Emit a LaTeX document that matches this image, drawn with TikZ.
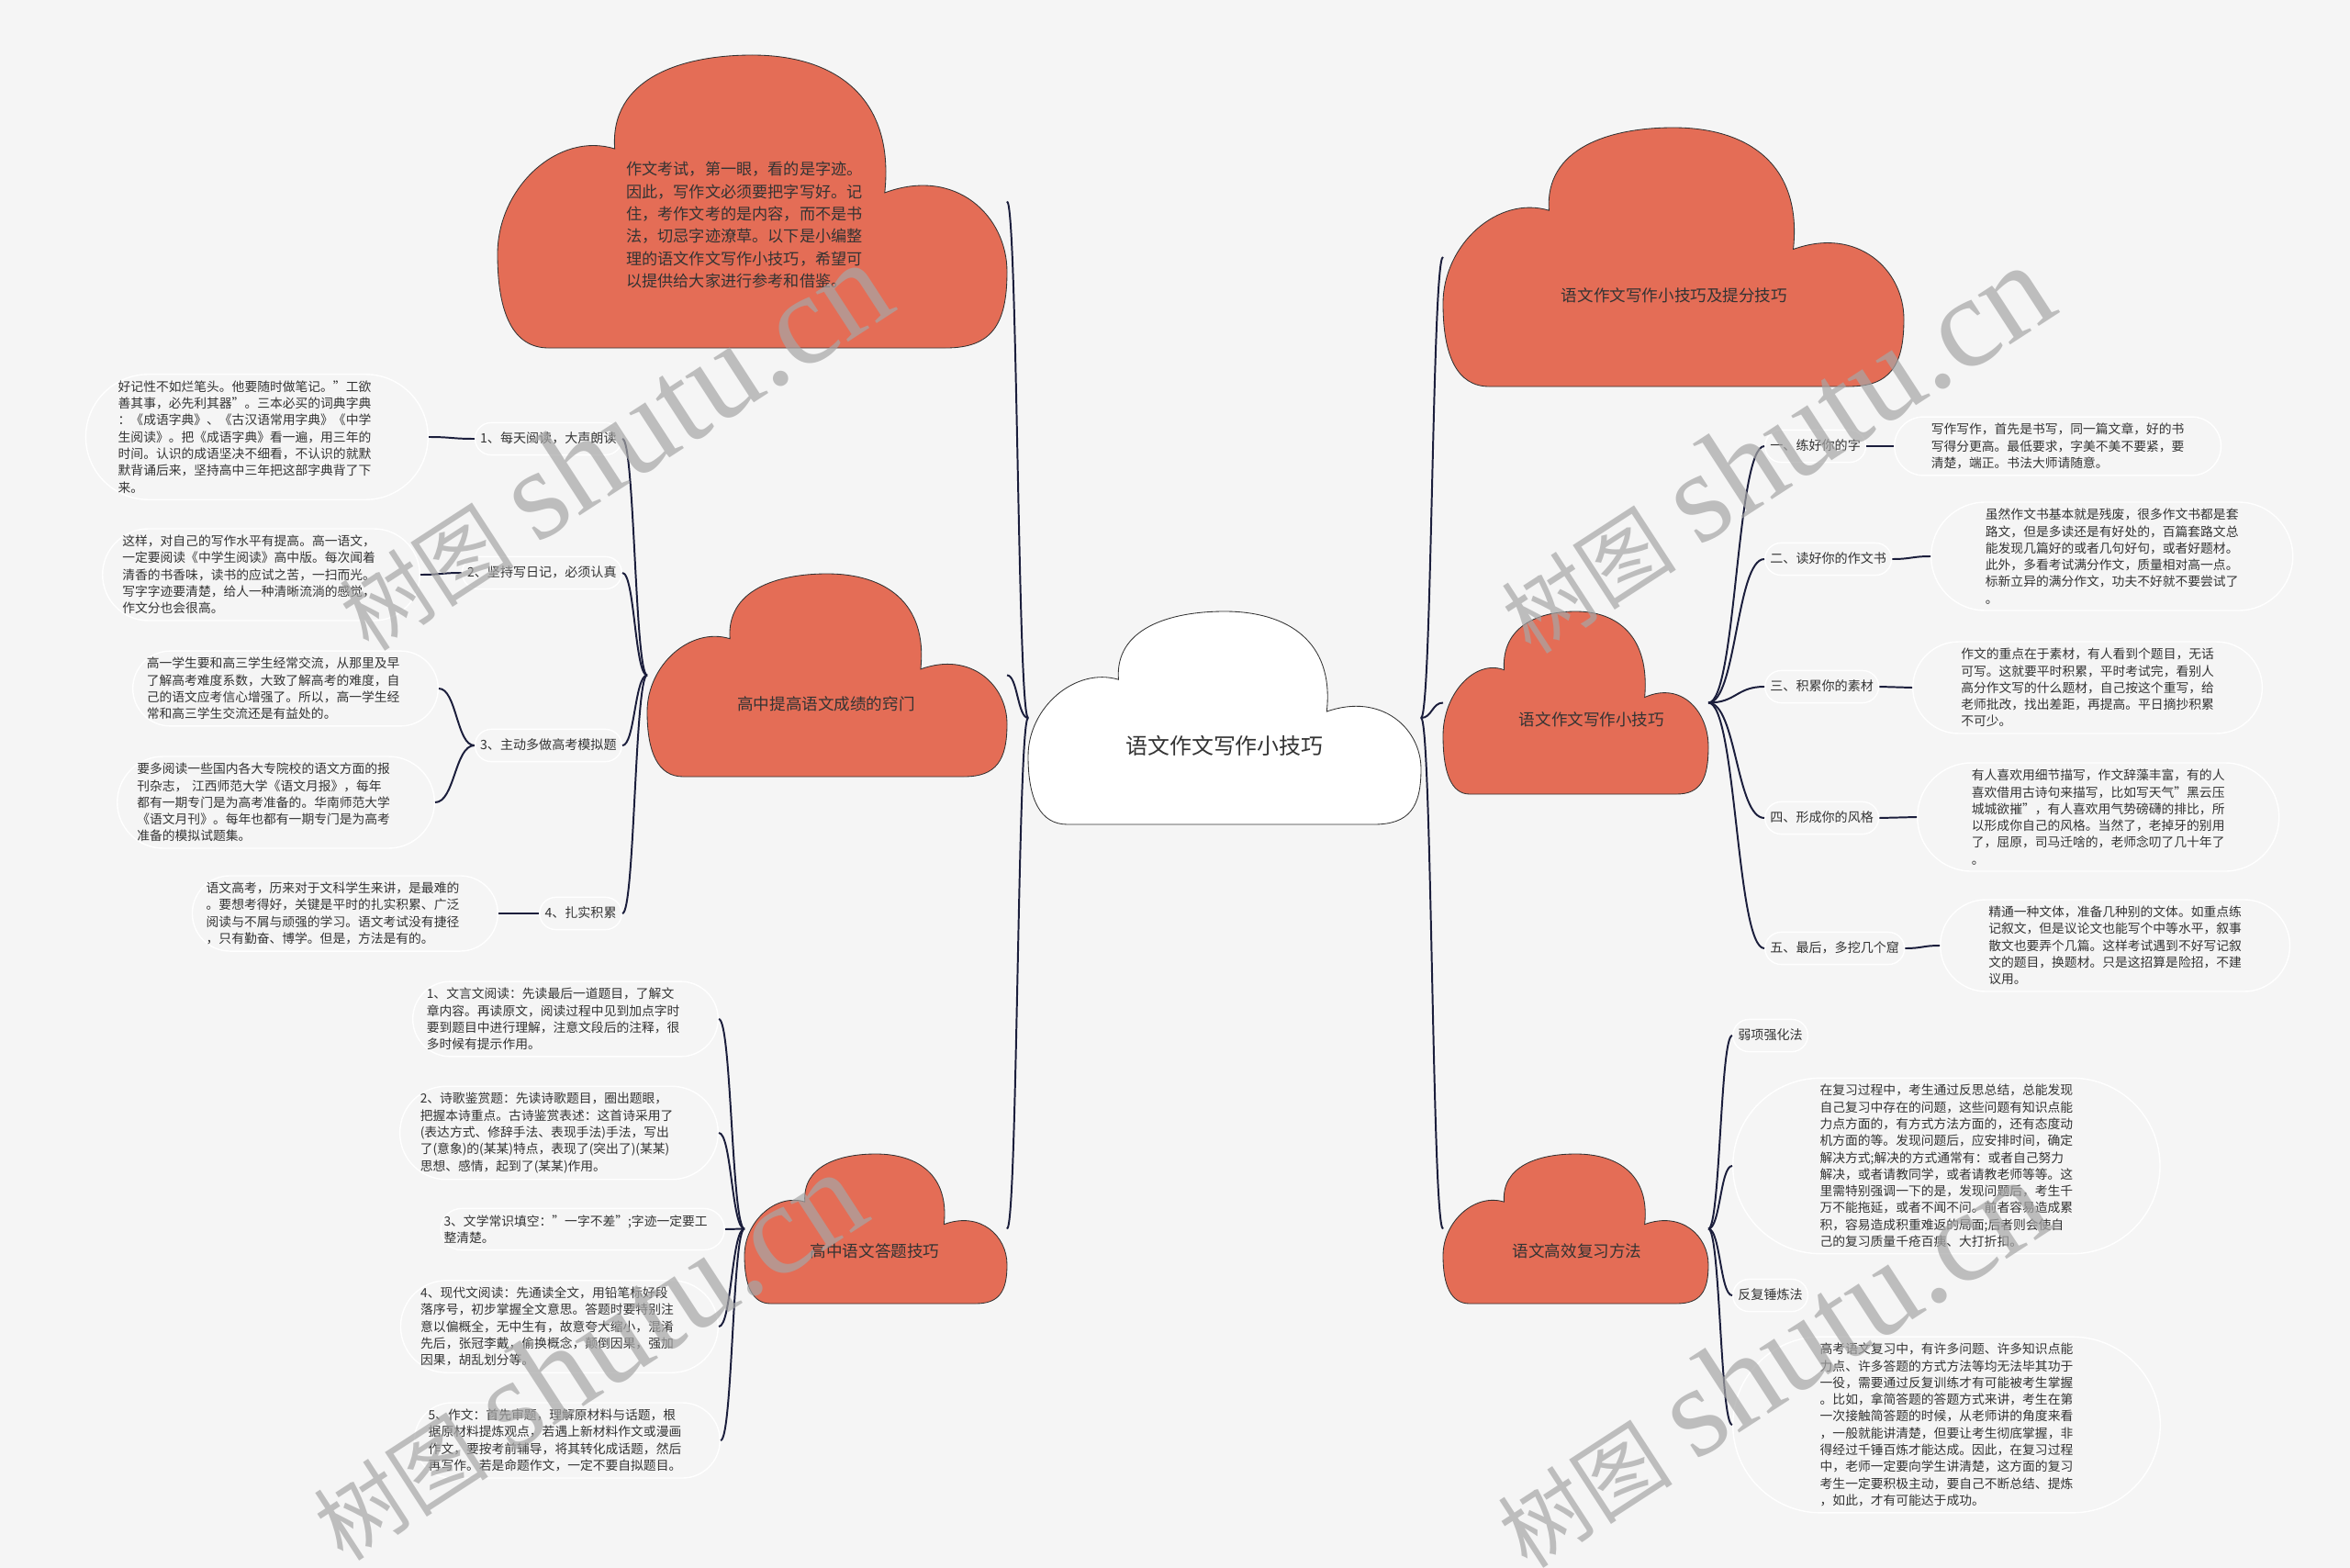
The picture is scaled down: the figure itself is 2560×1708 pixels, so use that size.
\documentclass[tikz,border=0pt]{standalone}
\usepackage{fontspec}
\setmainfont{Noto Sans CJK SC}
\newfontfamily\wmserif{Liberation Serif}
\usetikzlibrary{shapes.misc,calc}

\definecolor{pagebg}{HTML}{F5F5F5}
\definecolor{cloudred}{HTML}{E46D56}
\definecolor{linkblue}{HTML}{1B1E3C}
\definecolor{inkgray}{HTML}{333333}

\tikzset{
  link/.style={draw=linkblue, line width=1.4pt,
    to path={.. controls ($(\tikztostart)!0.5!(\tikztostart -| \tikztotarget)$)
      and ($(\tikztotarget)!0.5!(\tikztotarget -| \tikztostart)$) .. (\tikztotarget)}},
  cloudline/.style={draw=black!80, line width=0.6pt},
  cloudtext/.style={font=\fontsize{12.5}{15}\selectfont, text=inkgray},
  pill/.style={rounded rectangle, draw=white, line width=1pt, text=inkgray},
  item/.style={pill, font=\fontsize{10}{12}\selectfont, inner xsep=3pt, inner ysep=7.5pt,
    text height=8.5pt, text depth=1.5pt},
  leaf/.style={pill, align=left, font=\fontsize{9.8}{13}\selectfont, inner ysep=5pt},
  leafl/.style={leaf, text width=215pt, inner xsep=-2pt},
  leafr/.style={leaf, inner xsep=20pt},
  wmark/.style={text=black!35, opacity=0.7, rotate=33, inner sep=0pt},
}

% outline of one cloud in a unit box, y going down
\newcommand{\cloudoutline}{(0.10,1) .. controls (0.03,1) and (0,0.88) .. (0,0.68)
  .. controls (0,0.45) and (0.12,0.26) .. (0.23,0.32)
  .. controls (0.22,0.08) and (0.36,0) .. (0.50,0)
  .. controls (0.66,0) and (0.78,0.14) .. (0.76,0.47)
  .. controls (0.90,0.38) and (1,0.55) .. (1,0.74)
  .. controls (1,0.92) and (0.97,1) .. (0.88,1) -- cycle}

\newcommand{\drawcloud}[6]{% name, left, top, width, height, fill
  \begin{scope}[shift={(#2,#3)}, xscale=#4, yscale=#5]
    \filldraw[cloudline, fill=#6] \cloudoutline;
  \end{scope}
  \coordinate (#1w) at (#2,#3+#5/2);
  \coordinate (#1e) at (#2+#4,#3+#5/2);
}

\begin{document}
\begin{tikzpicture}[x=0.025cm,y=-0.025cm]
  \useasboundingbox (0,0) rectangle (2560,1708);
  \fill[pagebg] (0,0) rectangle (2560,1708);

  % clouds
  \drawcloud{c0}{542}{60}{555}{319}{cloudred}
  \drawcloud{c1}{1120}{666}{428}{232}{white}
  \drawcloud{c2}{705}{625}{392}{221}{cloudred}
  \drawcloud{c3}{811}{1257}{286}{163}{cloudred}
  \drawcloud{c4}{1572}{139}{502}{282}{cloudred}
  \drawcloud{c5}{1572}{666}{289}{199}{cloudred}
  \drawcloud{c6}{1572}{1257}{289}{163}{cloudred}

  \node[align=left, font=\fontsize{12.2}{17.3}\selectfont, text=inkgray] (intro) at (811,245)
    {作文考试，第一眼，看的是字迹。\\因此，写作文必须要把字写好。记\\住，考作文考的是内容，而不是书\\法，切忌字迹潦草。以下是小编整\\理的语文作文写作小技巧，希望可\\以提供给大家进行参考和借鉴。};
  \node[font=\fontsize{17}{20}\selectfont, text=inkgray] (root) at (1334,812) {语文作文写作小技巧};
  \node[cloudtext] (t2) at (900,767) {高中提高语文成绩的窍门};
  \node[cloudtext] (t3) at (953,1363) {高中语文答题技巧};
  \node[cloudtext] (t4) at (1824,322) {语文作文写作小技巧及提分技巧};
  \node[cloudtext] (t5) at (1734,784) {语文作文写作小技巧};
  \node[cloudtext] (t6) at (1718,1363) {语文高效复习方法};

  % left branch
  \node[item, anchor=east] (i1) at (678,478) {1、每天阅读，大声朗读};
  \node[item, anchor=east] (i2) at (678,624) {2、坚持写日记，必须认真};
  \node[item, anchor=east] (i3) at (678,812) {3、主动多做高考模拟题};
  \node[item, anchor=east] (i4) at (678,995) {4、扎实积累};
  \node[leafl, anchor=east] (l1) at (467,476)
    {好记性不如烂笔头。他要随时做笔记。"工欲\\善其事，必先利其器"。三本必买的词典字典\\：《成语字典》、《古汉语常用字典》《中学\\生阅读》。把《成语字典》看一遍，用三年的\\时间。认识的成语坚决不细看，不认识的就默\\默背诵后来，坚持高中三年把这部字典背了下\\来。};
  \node[leafl, anchor=east] (l2) at (458,626)
    {这样，对自己的写作水平有提高。高一语文，\\一定要阅读《中学生阅读》高中版。每次闻着\\清香的书香味，读书的应试之苦，一扫而光。\\写字字迹要清楚，给人一种清晰流淌的感觉，\\作文分也会很高。};
  \node[leafl, anchor=east] (l3a) at (478,750)
    {高一学生要和高三学生经常交流，从那里及早\\了解高考难度系数，大致了解高考的难度，自\\己的语文应考信心增强了。所以，高一学生经\\常和高三学生交流还是有益处的。};
  \node[leafl, anchor=east] (l3b) at (474,874)
    {要多阅读一些国内各大专院校的语文方面的报\\刊杂志， 江西师范大学《语文月报》，每年\\都有一期专门是为高考准备的。华南师范大学\\《语文月刊》。每年也都有一期专门是为高考\\准备的模拟试题集。};
  \node[leafl, anchor=east] (l4) at (543,995)
    {语文高考，历来对于文科学生来讲，是最难的\\。要想考得好，关键是平时的扎实积累、广泛\\阅读与不屑与顽强的学习。语文考试没有捷径\\，只有勤奋、博学。但是，方法是有的。};

  % bottom left branch
  \node[leafl, anchor=east] (b1) at (783,1110)
    {1、文言文阅读：先读最后一道题目，了解文\\章内容。再读原文，阅读过程中见到加点字时\\要到题目中进行理解，注意文段后的注释，很\\多时候有提示作用。};
  \node[leafl, anchor=east] (b2) at (783,1234)
    {2、诗歌鉴赏题：先读诗歌题目，圈出题眼，\\把握本诗重点。古诗鉴赏表述：这首诗采用了\\(表达方式、修辞手法、表现手法)手法，写出\\了(意象)的(某某)特点，表现了(突出了)(某某)\\思想、感情，起到了(某某)作用。};
  \node[leafl, anchor=east] (b3) at (790,1339)
    {3、文学常识填空："一字不差";字迹一定要工\\整清楚。};
  \node[leafl, anchor=east] (b4) at (783,1445)
    {4、现代文阅读：先通读全文，用铅笔标好段\\落序号，初步掌握全文意思。答题时要特别注\\意以偏概全，无中生有，故意夸大缩小，混淆\\先后，张冠李戴，偷换概念，颠倒因果，强加\\因果，胡乱划分等。};
  \node[leafl, anchor=east] (b5) at (785,1569)
    {5、作文：首先审题，理解原材料与话题，根\\据原材料提炼观点，若遇上新材料作文或漫画\\作文，要按考前辅导，将其转化成话题，然后\\再写作。若是命题作文，一定不要自拟题目。};

  % right branch
  \node[item, anchor=west] (r1) at (1922,486) {一、练好你的字};
  \node[item, anchor=west] (r2) at (1922,609) {二、读好你的作文书};
  \node[item, anchor=west] (r3) at (1922,748) {三、积累你的素材};
  \node[item, anchor=west] (r4) at (1922,891) {四、形成你的风格};
  \node[item, anchor=west] (r5) at (1922,1033) {五、最后，多挖几个窟};
  \node[leafr, anchor=west] (n1) at (2063,486)
    {写作写作，首先是书写，同一篇文章，好的书\\写得分更高。最低要求，字美不美不要紧，要\\清楚，端正。书法大师请随意。};
  \node[leafr, anchor=west] (n2) at (2103,606)
    {虽然作文书基本就是残废，很多作文书都是套\\路文，但是多读还是有好处的，百篇套路文总\\能发现几篇好的或者几句好句，或者好题材。\\此外，多看考试满分作文，质量相对高一点。\\标新立异的满分作文，功夫不好就不要尝试了\\。};
  \node[leafr, anchor=west] (n3) at (2083,749)
    {作文的重点在于素材，有人看到个题目，无话\\可写。这就要平时积累，平时考试完，看别人\\高分作文写的什么题材，自己按这个重写，给\\老师批改，找出差距，再提高。平日摘抄积累\\不可少。};
  \node[leafr, anchor=west] (n4) at (2088,890)
    {有人喜欢用细节描写，作文辞藻丰富，有的人\\喜欢借用古诗句来描写，比如写天气"黑云压\\城城欲摧"，有人喜欢用气势磅礴的排比，所\\以形成你自己的风格。当然了，老掉牙的别用\\了，屈原，司马迁啥的，老师念叨了几十年了\\。};
  \node[leafr, anchor=west] (n5) at (2113,1030)
    {精通一种文体，准备几种别的文体。如重点练\\记叙文，但是议论文也能写个中等水平，叙事\\散文也要弄个几篇。这样考试遇到不好写记叙\\文的题目，换题材。只是这招算是险招，不建\\议用。};

  % bottom right branch
  \node[item, anchor=west] (q1) at (1887,1128) {弱项强化法};
  \node[item, anchor=west] (q2) at (1887,1411) {反复锤炼法};
  \node[leafr, inner xsep=25pt, anchor=west] (w1) at (1887,1270)
    {在复习过程中，考生通过反思总结，总能发现\\自己复习中存在的问题，这些问题有知识点能\\力点方面的，有方式方法方面的，还有态度动\\机方面的等。发现问题后，应安排时间，确定\\解决方式;解决的方式通常有：或者自己努力\\解决，或者请教同学，或者请教老师等等。这\\里需特别强调一下的是，发现问题后，考生千\\万不能拖延，或者不闻不问。前者容易造成累\\积，容易造成积重难返的局面;后者则会使自\\己的复习质量千疮百痍、大打折扣。};
  \node[leafr, inner xsep=25pt, anchor=west] (w2) at (1887,1552)
    {高考语文复习中，有许多问题、许多知识点能\\力点、许多答题的方式方法等均无法毕其功于\\一役，需要通过反复训练才有可能被考生掌握\\。比如，拿简答题的答题方式来讲，考生在第\\一次接触简答题的时候，从老师讲的角度来看\\，一般就能讲清楚，但要让考生彻底掌握，非\\得经过千锤百炼才能达成。因此，在复习过程\\中，老师一定要向学生讲清楚，这方面的复习\\考生一定要积极主动，要自己不断总结、提炼\\，如此，才有可能达于成功。};

  % connectors
  \draw[link] (c1w) to (c0e);
  \draw[link] (c1w) to (c2e);
  \draw[link] (c1w) to (c3e);
  \draw[link] (c1e) to (c4w);
  \draw[link] (c1e) to (c5w);
  \draw[link] (c1e) to (c6w);
  \foreach \n in {i1,i2,i3,i4}
    \draw[link] (c2w) to (\n.east);
  \draw[link] (l1.east) to (i1.west);
  \draw[link] (l2.east) to (i2.west);
  \draw[link] (i3.west) to (l3a.east);
  \draw[link] (i3.west) to (l3b.east);
  \draw[link] (l4.east) to (i4.west);
  \foreach \n in {b1,b2,b3,b4,b5}
    \draw[link] (c3w) to (\n.east);
  \foreach \n in {1,...,5}{
    \draw[link] (c5e) to (r\n.west);
    \draw[link] (r\n.east) to (n\n.west);
  }
  \foreach \n in {q1,w1,q2,w2}
    \draw[link] (c6e) to (\n.west);

  % watermarks
  \foreach \wx/\wy [count=\k] in {667/486,1933/489,639/1477,1929/1485}
    \node[wmark] (wm\k) at (\wx,\wy)
      {{\fontsize{68}{68}\selectfont 树图}\hspace{18pt}{\wmserif\fontsize{100}{100}\selectfont shutu.cn}};
\end{tikzpicture}
\end{document}
